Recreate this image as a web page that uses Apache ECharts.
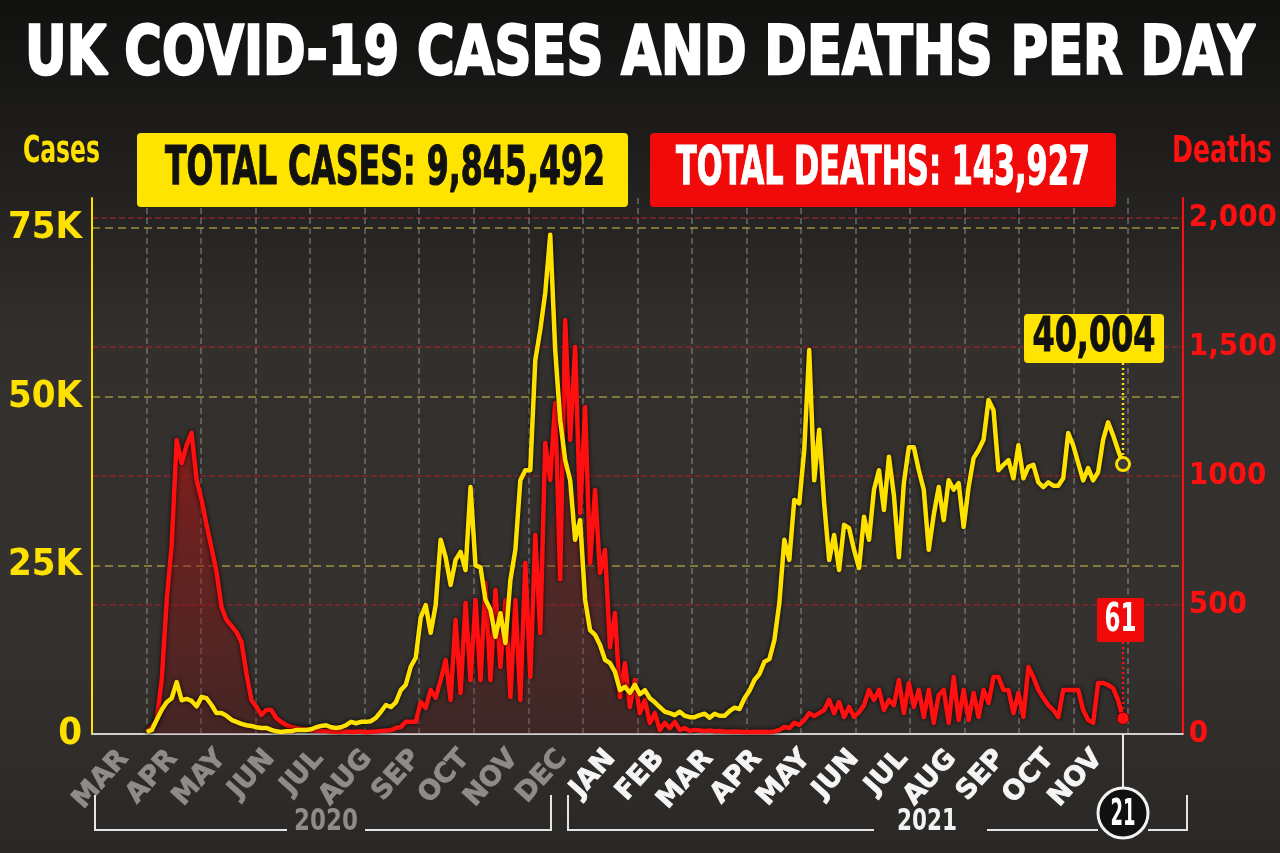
<!DOCTYPE html>
<html>
<head>
<meta charset="utf-8">
<script src="https://cdn.jsdelivr.net/npm/echarts@6/dist/echarts.min.js"></script>
<style>
html,body{margin:0;padding:0;background:#1c1b1a;}
#c{width:1280px;height:853px;}
</style>
</head>
<body>
<div id="c"></div>
<script>
// ---------------- DATA ----------------
const titleText = 'UK COVID-19 CASES AND DEATHS PER DAY';
const totalCasesText = 'TOTAL CASES: 9,845,492';
const totalDeathsText = 'TOTAL DEATHS: 143,927';
const casesAxisName = 'Cases';
const deathsAxisName = 'Deaths';
const monthLabels = ['MAR','APR','MAY','JUN','JUL','AUG','SEP','OCT','NOV','DEC',
                     'JAN','FEB','MAR','APR','MAY','JUN','JUL','AUG','SEP','OCT','NOV'];
const months2020Count = 10;
const yearLabels = ['2020', '2021'];
const latestDayLabel = '21';
const caseTickValues = [0, 25000, 50000, 75000];
const caseTickLabels = ['0', '25K', '50K', '75K'];
const deathTickValues = [0, 500, 1000, 1500, 2000];
const deathTickLabels = ['0', '500', '1000', '1,500', '2,000'];

// daily cases, sampled evenly along the time axis
const casesData = [
  300,600,2100,3600,4700,5300,7700,5000,5200,4900,
  4100,5500,5300,4300,3100,3100,2700,2100,1800,1500,
  1300,1200,1000,900,900,600,400,300,400,400,
  600,600,600,700,1000,1200,1300,1000,900,1000,
  1300,1800,1600,1800,1800,1900,2400,3300,4300,4000,
  4700,6500,7300,10000,11300,17300,19100,15000,19100,28800,
  26200,22100,25800,27000,24300,36600,25000,24700,19900,18400,
  14400,17900,13500,22800,27300,37600,39100,39100,55400,59900,
  65400,74000,56900,46500,40600,37600,28800,31700,19900,15400,
  14700,13200,11000,10500,9200,6500,7000,6100,7300,5900,
  6500,5300,4700,4000,3300,3100,2800,3300,2700,2500,
  2500,2800,3000,2400,3000,2700,2700,3400,3900,3700,
  5300,6400,8000,8900,10700,11100,13900,19400,28800,25800,
  34700,34200,42100,56900,37600,45100,34200,25800,29500,24300,
  31000,30500,27300,24600,32200,28800,36200,39100,33200,41100,
  35400,26200,37200,42500,42500,39100,36200,27300,32500,36600,
  31700,37600,36200,37200,30700,36600,40900,42100,43600,49500,
  48000,39100,39900,40600,37900,42800,37900,39600,39900,37300,
  36600,37300,36800,36800,37900,44600,42800,40200,37600,39400,
  37600,38800,43600,46200,44300,42100,40004
];
// daily deaths, same sampling
const deathsData = [
  8,27,54,209,519,733,1140,1050,1120,1167,
  985,907,810,721,628,492,442,419,395,357,
  236,132,105,74,93,93,62,47,35,27,
  23,20,18,15,14,12,12,10,9,8,
  10,8,9,10,7,9,10,12,14,15,
  23,27,47,47,47,124,101,171,140,209,
  287,132,442,159,508,209,519,209,585,209,
  558,260,519,143,519,132,663,221,771,391,
  1128,985,1283,600,1605,1140,1500,857,1267,663,
  946,624,713,337,469,143,275,105,209,81,
  132,43,81,16,43,23,47,16,23,12,
  16,14,12,14,11,12,10,9,10,9,
  8,8,9,8,9,8,10,16,27,23,
  43,35,54,81,70,81,93,132,81,124,
  66,105,66,85,112,171,132,171,93,132,
  112,209,81,198,105,171,66,171,43,151,
  171,43,221,54,171,54,159,66,171,120,
  221,221,171,171,81,159,66,260,221,171,
  140,112,93,66,171,171,171,171,93,54,
  43,198,198,190,178,132,61
];
// shaded average of deaths during the two big waves
const deathsAvgWave1Start = 0;
const deathsAvgWave1 = [
  8,27,54,209,519,733,1100,1080,1110,1150,
  985,907,810,721,628,492,442,419,395,357,
  236,132,105,80,90,90,62,47,35,27,23
];
const deathsAvgWave2Start = 50;
const deathsAvgWave2 = [
  20,25,35,45,55,70,85,100,120,140,
  165,190,220,250,280,310,340,360,380,390,
  395,400,400,400,410,420,440,470,520,600,
  700,800,870,920,950,950,930,880,820,740,
  660,580,500,430,360,300,250,200,160,130,
  100,80,60,45,35,28,22,18,15,12,10
];

// ---------------- helpers ----------------
const mctx = document.createElement('canvas').getContext('2d');
function hasFont(name) {
  const t = 'MMWWiil0123 abcXYZ';
  mctx.font = '40px monospace';
  const a = mctx.measureText(t).width;
  mctx.font = '40px "' + name + '", monospace';
  const b = mctx.measureText(t).width;
  return Math.abs(a - b) > 0.5;
}
const NARROW = hasFont('Liberation Sans Narrow') ? '"Liberation Sans Narrow"'
             : (hasFont('DejaVu Sans Condensed') ? '"DejaVu Sans Condensed"' : '"Liberation Sans"');
function fit(text, font, w) { mctx.font = font; return w / mctx.measureText(text).width; }
function txt(text, font, fill, x, y, w, extra) {
  return {
    type: 'text', x: x, y: y, scaleX: w ? fit(text, font, w) : 1, z: 100,
    style: Object.assign({ text: text, font: font, fill: fill,
      align: 'center', textAlign: 'center', verticalAlign: 'middle', textVerticalAlign: 'middle' }, extra || {})
  };
}

const YELLOW = '#ffe100';
const RED = '#ff1010';
const lastIdx = casesData.length - 1;

const chart = echarts.init(document.getElementById('c'), null, { renderer: 'canvas' });

const option = {
  animation: false,
  backgroundColor: {
    type: 'linear', x: 0, y: 0, x2: 0, y2: 1,
    colorStops: [
      { offset: 0, color: '#111110' },
      { offset: 0.13, color: '#1b1a19' },
      { offset: 0.4, color: '#322f2c' },
      { offset: 0.75, color: '#35312e' },
      { offset: 1, color: '#2a2826' }
    ]
  },
  grid: [
    { left: 92, right: 95, top: 198, bottom: 119 },
    { left: 124, right: 182, top: 198, bottom: 119 }
  ],
  xAxis: [
    { type: 'value', gridIndex: 0, position: 'bottom', min: -11, max: 208, interval: 1,
      axisLine: { show: true, onZero: false, lineStyle: { color: '#d0d0d0', width: 2 } },
      axisTick: { show: false }, axisLabel: { show: false }, splitLine: { show: false } },
    { type: 'value', gridIndex: 0, position: 'top', min: 0, max: 20, interval: 1,
      axisLine: { show: false }, axisTick: { show: false }, axisLabel: { show: false },
      splitLine: { show: true, showMinLine: false, showMaxLine: false,
        lineStyle: { color: 'rgba(175,175,175,0.5)', width: 1.5, type: [6, 4] } } },
    { type: 'value', gridIndex: 1, position: 'bottom', min: 0, max: monthLabels.length - 1, interval: 1,
      axisLine: { show: false }, axisTick: { show: false }, splitLine: { show: false },
      axisLabel: {
        show: true, rotate: 48, margin: 20,
        formatter: function (v) {
          const i = Math.round(v);
          return (i < months2020Count ? '{g|' : '{w|') + monthLabels[i] + '}';
        },
        rich: {
          g: { color: '#8e8c8a', fontFamily: '"DejaVu Sans"', fontWeight: 'bold', fontSize: 27,
               textBorderColor: '#8e8c8a', textBorderWidth: 0.8 },
          w: { color: '#f5f5f5', fontFamily: '"DejaVu Sans"', fontWeight: 'bold', fontSize: 27,
               textBorderColor: '#f5f5f5', textBorderWidth: 0.8 }
        }
      } }
  ],
  yAxis: [
    { type: 'value', gridIndex: 0, position: 'left', min: 0, max: 75000 * 536 / 506, interval: 25000,
      axisLine: { show: true, onZero: false, lineStyle: { color: YELLOW, width: 2 } },
      axisTick: { show: false },
      axisLabel: { show: true, margin: 10, showMaxLabel: false, color: YELLOW,
        fontFamily: NARROW, fontWeight: 'bold', fontSize: 38,
        formatter: function (v) { const k = caseTickValues.indexOf(v); return k >= 0 ? caseTickLabels[k] : ''; } },
      splitLine: { show: true, showMinLine: false, showMaxLine: false,
        lineStyle: { color: 'rgba(190,180,70,0.75)', width: 1.5, type: [8, 5] } } },
    { type: 'value', gridIndex: 0, position: 'right', min: 0, max: 2000 * 536 / 516, interval: 500,
      axisLine: { show: true, onZero: false, lineStyle: { color: RED, width: 2 } },
      axisTick: { show: false },
      axisLabel: { show: true, margin: 6, showMaxLabel: false, color: RED,
        fontFamily: NARROW, fontWeight: 'bold', fontSize: 31,
        formatter: function (v) { const k = deathTickValues.indexOf(v); return k >= 0 ? deathTickLabels[k] : ''; } },
      splitLine: { show: true, showMinLine: false, showMaxLine: false,
        lineStyle: { color: 'rgba(150,35,45,0.85)', width: 1.5, type: [6, 3] } } },
    { type: 'value', gridIndex: 1, show: false, min: 0, max: 1 }
  ],
  series: [
    { type: 'line', name: 'DeathsAvg1', xAxisIndex: 0, yAxisIndex: 1, z: 2,
      data: deathsAvgWave1.map((v, i) => [i + deathsAvgWave1Start, v]),
      showSymbol: false, symbol: 'none', lineStyle: { width: 0 },
      areaStyle: { color: { type: 'linear', x: 0, y: 0, x2: 0, y2: 1,
        colorStops: [{ offset: 0, color: 'rgba(190,15,15,0.8)' }, { offset: 1, color: 'rgba(110,20,20,0.45)' }] } } },
    { type: 'line', name: 'DeathsAvg2', xAxisIndex: 0, yAxisIndex: 1, z: 2,
      data: deathsAvgWave2.map((v, i) => [i + deathsAvgWave2Start, v]),
      showSymbol: false, symbol: 'none', smooth: true, lineStyle: { width: 0 },
      areaStyle: { color: { type: 'linear', x: 0, y: 0, x2: 0, y2: 1,
        colorStops: [{ offset: 0, color: 'rgba(150,25,25,0.6)' }, { offset: 1, color: 'rgba(100,25,25,0.35)' }] } } },
    { type: 'line', name: 'Deaths', xAxisIndex: 0, yAxisIndex: 1, z: 3,
      data: deathsData.map((v, i) => [i, v]),
      showSymbol: false, symbol: 'none',
      lineStyle: { color: RED, width: 4.5, join: 'round', shadowColor: 'rgba(0,0,0,0.85)', shadowBlur: 4 },
      markPoint: { symbol: 'circle', symbolSize: 12, silent: true, animation: false,
        itemStyle: { color: RED, borderColor: '#7a0000', borderWidth: 1 }, label: { show: false },
        data: [{ coord: [lastIdx, deathsData[lastIdx]] }] } },
    { type: 'line', name: 'Cases', xAxisIndex: 0, yAxisIndex: 0, z: 4,
      data: casesData.map((v, i) => [i, v]),
      showSymbol: false, symbol: 'none',
      lineStyle: { color: YELLOW, width: 4.5, join: 'round', shadowColor: 'rgba(0,0,0,0.85)', shadowBlur: 4 },
      markPoint: { symbol: 'circle', symbolSize: 13, silent: true, animation: false,
        itemStyle: { color: '#3c3a37', borderColor: YELLOW, borderWidth: 3 }, label: { show: false },
        data: [{ coord: [lastIdx, casesData[lastIdx]] }] } }
  ]
};
chart.setOption(option);

// ---------------- annotations placed through the library's scales ----------------
const pc = chart.convertToPixel({ seriesIndex: 3 }, [lastIdx, casesData[lastIdx]]);
const pd = chart.convertToPixel({ seriesIndex: 2 }, [lastIdx, deathsData[lastIdx]]);
const axisY = chart.convertToPixel({ seriesIndex: 3 }, [lastIdx, 0])[1];
const cx = pc[0];
const fmt = n => n.toLocaleString('en-US');

const g = [];
// title
g.push(txt(titleText, 'bold 68px "DejaVu Sans"', '#ffffff', 640, 56, 1230, { stroke: '#ffffff', lineWidth: 2.5 }));
// totals boxes
g.push({ type: 'rect', z: 90, shape: { x: 137, y: 133, width: 491, height: 74, r: 4 }, style: { fill: '#ffe400' } });
g.push(txt(totalCasesText, 'bold 54px ' + NARROW, '#111111', 385, 170, 440, { stroke: '#111111', lineWidth: 1.2 }));
g.push({ type: 'rect', z: 90, shape: { x: 650, y: 133, width: 466, height: 74, r: 4 }, style: { fill: '#f00a0a' } });
g.push(txt(totalDeathsText, 'bold 54px ' + NARROW, '#ffffff', 883, 170, 414, { stroke: '#ffffff', lineWidth: 1.2 }));
// axis names
g.push(txt(casesAxisName, 'bold 38px ' + NARROW, YELLOW, 61.5, 152, 77));
g.push(txt(deathsAxisName, 'bold 38px ' + NARROW, RED, 1222, 152, 100));
// latest cases callout
g.push({ type: 'line', z: 95, shape: { x1: cx, y1: 363, x2: cx, y2: pc[1] - 8 },
  style: { stroke: YELLOW, lineWidth: 2.5, lineDash: [2, 3] } });
g.push({ type: 'rect', z: 96, shape: { x: cx - 99, y: 314, width: 140, height: 49, r: 4 }, style: { fill: '#ffe400' } });
g.push(txt(fmt(casesData[lastIdx]), 'bold 48px ' + NARROW, '#111111', cx - 29, 339, 123, { stroke: '#111111', lineWidth: 1 }));
// latest deaths callout
g.push({ type: 'line', z: 95, shape: { x1: cx, y1: 642, x2: cx, y2: pd[1] - 7 },
  style: { stroke: RED, lineWidth: 2.5, lineDash: [2, 3] } });
g.push({ type: 'rect', z: 96, shape: { x: cx - 26, y: 598, width: 47, height: 44, r: 2 }, style: { fill: '#f00a0a' } });
g.push(txt(fmt(deathsData[lastIdx]), 'bold 39px ' + NARROW, '#ffffff', cx - 2.5, 621, 32));
// year brackets
const bs = { stroke: '#e4e4e4', lineWidth: 2, fill: null };
g.push({ type: 'polyline', z: 90, shape: { points: [[95, 795], [95, 830], [287, 830]] }, style: bs });
g.push({ type: 'polyline', z: 90, shape: { points: [[365, 830], [551, 830], [551, 795]] }, style: bs });
g.push(txt(yearLabels[0], 'bold 30px ' + NARROW, '#8e8c8a', 326, 822, 64));
g.push({ type: 'polyline', z: 90, shape: { points: [[568, 795], [568, 830], [874, 830]] }, style: bs });
g.push({ type: 'polyline', z: 90, shape: { points: [[987, 830], [cx - 25, 830]] }, style: bs });
g.push({ type: 'polyline', z: 90, shape: { points: [[cx + 25, 830], [1187, 830], [1187, 795]] }, style: bs });
g.push(txt(yearLabels[1], 'bold 30px ' + NARROW, '#f2f2f2', 927, 822, 60));
// latest-day marker
g.push({ type: 'line', z: 95, shape: { x1: cx, y1: axisY, x2: cx, y2: 788 }, style: { stroke: '#e8e8e8', lineWidth: 2 } });
g.push({ type: 'circle', z: 96, shape: { cx: cx, cy: 813, r: 25 }, style: { fill: '#101010', stroke: '#f2f2f2', lineWidth: 3 } });
g.push(txt(latestDayLabel, 'bold 38px ' + NARROW, '#ffffff', cx, 815, 25));

chart.setOption({ graphic: g });
</script>
</body>
</html>
